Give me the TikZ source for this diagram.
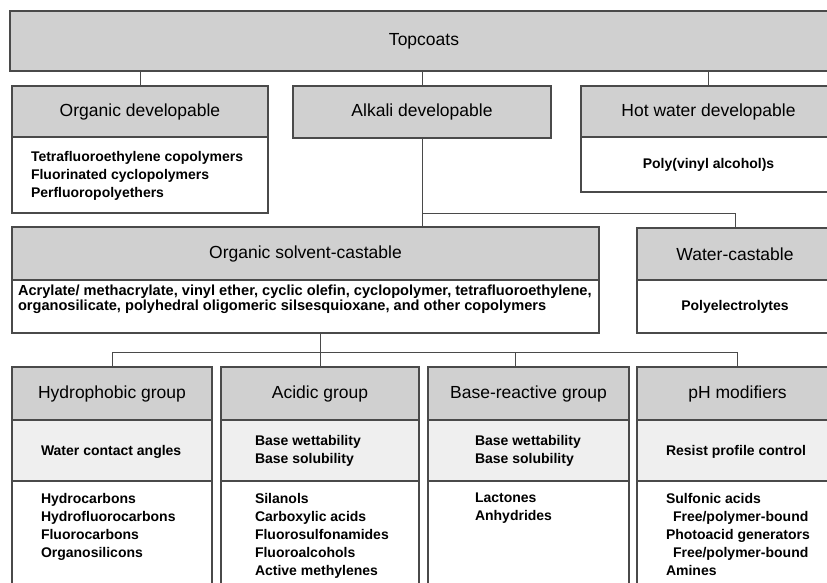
\documentclass[tikz,border=0pt]{standalone}
\usepackage{fontspec}
\setmainfont{Liberation Sans}
\usetikzlibrary{calc}
\definecolor{bordercol}{HTML}{4A4A4A}
\definecolor{hdrgray}{HTML}{D0D0D0}
\definecolor{bandgray}{HTML}{EFEFEF}
\newcommand{\hdrfont}{\fontsize{17.5}{20}\selectfont}
\newcommand{\bodyfont}{\bfseries\fontsize{14}{18}\selectfont}
\begin{document}
\begin{tikzpicture}[x=1pt,y={(0pt,-1pt)},
  box/.style={draw=bordercol, line width=1.1pt, inner sep=0pt, outer sep=0pt, anchor=north west},
  hdr/.style={box, fill=hdrgray, font=\hdrfont, text=black},
  band/.style={box, fill=bandgray},
  bodybox/.style={box, fill=white, font=\bodyfont},
  txt/.style={inner sep=0pt, outer sep=0pt, anchor=north west, align=left, font=\bodyfont},
  conn/.style={draw=bordercol, line width=1pt}]
\useasboundingbox (0,0) rectangle (827,583);
\fill[white] (0,0) rectangle (827,583);
\clip (0,0) rectangle (827,583);

% level 0
\node[hdr, minimum width=828, minimum height=60] (top) at (10,11) {Topcoats};

% level 1
\node[hdr, minimum width=256, minimum height=51] (odh) at (12,86) {Organic developable};
\node[bodybox, minimum width=256, minimum height=76] (odb) at (12,137) {};
\node[txt] (odt) at (31,151) {Tetrafluoroethylene copolymers\\Fluorinated cyclopolymers\\Perfluoropolyethers};

\node[hdr, minimum width=258, minimum height=52] (alh) at (293,86) {Alkali developable};

\node[hdr, minimum width=255, minimum height=51] (hwh) at (581,86) {Hot water developable};
\node[bodybox, minimum width=255, minimum height=55] (hwb) at (581,137) {Poly(vinyl alcohol)s};

% level 2
\node[hdr, minimum width=587, minimum height=53] (osh) at (12,227) {Organic solvent-castable};
\node[bodybox, minimum width=587, minimum height=53] (osb) at (12,280) {};
\node[txt, font=\bfseries\fontsize{14.6}{15.5}\selectfont] (ost) at (18,284.5) {Acrylate/ methacrylate, vinyl ether, cyclic olefin, cyclopolymer, tetrafluoroethylene,\\organosilicate, polyhedral oligomeric silsesquioxane, and other copolymers};

\node[hdr, minimum width=196, minimum height=52] (wch) at (637,228) {Water-castable};
\node[bodybox, minimum width=196, minimum height=53] (wcb) at (637,280) {Polyelectrolytes};

% level 3
\node[hdr, minimum width=200, minimum height=53] (hyh) at (12,367) {Hydrophobic group};
\node[band, minimum width=200, minimum height=61] (hym) at (12,420) {};
\node[bodybox, minimum width=200, minimum height=130] (hyb) at (12,481) {};
\node[txt] (hymt) at (41,445) {Water contact angles};
\node[txt] (hybt) at (41,493) {Hydrocarbons\\Hydrofluorocarbons\\Fluorocarbons\\Organosilicons};

\node[hdr, minimum width=198, minimum height=53] (ach) at (221,367) {Acidic group};
\node[band, minimum width=198, minimum height=61] (acm) at (221,420) {};
\node[bodybox, minimum width=198, minimum height=130] (acb) at (221,481) {};
\node[txt] (acmt) at (255,435) {Base wettability\\Base solubility};
\node[txt] (acbt) at (255,493) {Silanols\\Carboxylic acids\\Fluorosulfonamides\\Fluoroalcohols\\Active methylenes};

\node[hdr, minimum width=201, minimum height=53] (brh) at (428,367) {Base-reactive group};
\node[band, minimum width=201, minimum height=61] (brm) at (428,420) {};
\node[bodybox, minimum width=201, minimum height=130] (brb) at (428,481) {};
\node[txt] (brmt) at (475,435) {Base wettability\\Base solubility};
\node[txt] (brbt) at (475,493) {Lactones\\Anhydrides};

\node[hdr, minimum width=201, minimum height=53] (phh) at (637,367) {pH modifiers};
\node[band, minimum width=201, minimum height=61] (phm) at (637,420) {};
\node[bodybox, minimum width=201, minimum height=130] (phb) at (637,481) {};
\node[txt] (phmt) at (666,445) {Resist profile control};
\node[txt] (phbt) at (666,493) {Sulfonic acids\\\hspace*{7pt}Free/polymer-bound\\Photoacid generators\\\hspace*{7pt}Free/polymer-bound\\Amines};

% connectors
\draw[conn] (top.south -| odh.north) -- (odh.north);
\draw[conn] (top.south -| alh.north) -- (alh.north);
\draw[conn] (top.south -| hwh.north) -- (hwh.north);

\coordinate (j1) at (422,213);
\draw[conn] (alh.south) -- (alh.south |- osh.north);
\draw[conn] (j1) -- (j1 -| wch.north) -- (wch.north);

\coordinate (j2) at (320,352);
\coordinate (brin) at (515,367);
\draw[conn] (osb.south -| ach.north) -- (ach.north);
\draw[conn] (hyh.north) -- (hyh.north |- j2) -- (j2 -| phh.north) -- (phh.north);
\draw[conn] (brin |- j2) -- (brin);
\end{tikzpicture}
\end{document}
